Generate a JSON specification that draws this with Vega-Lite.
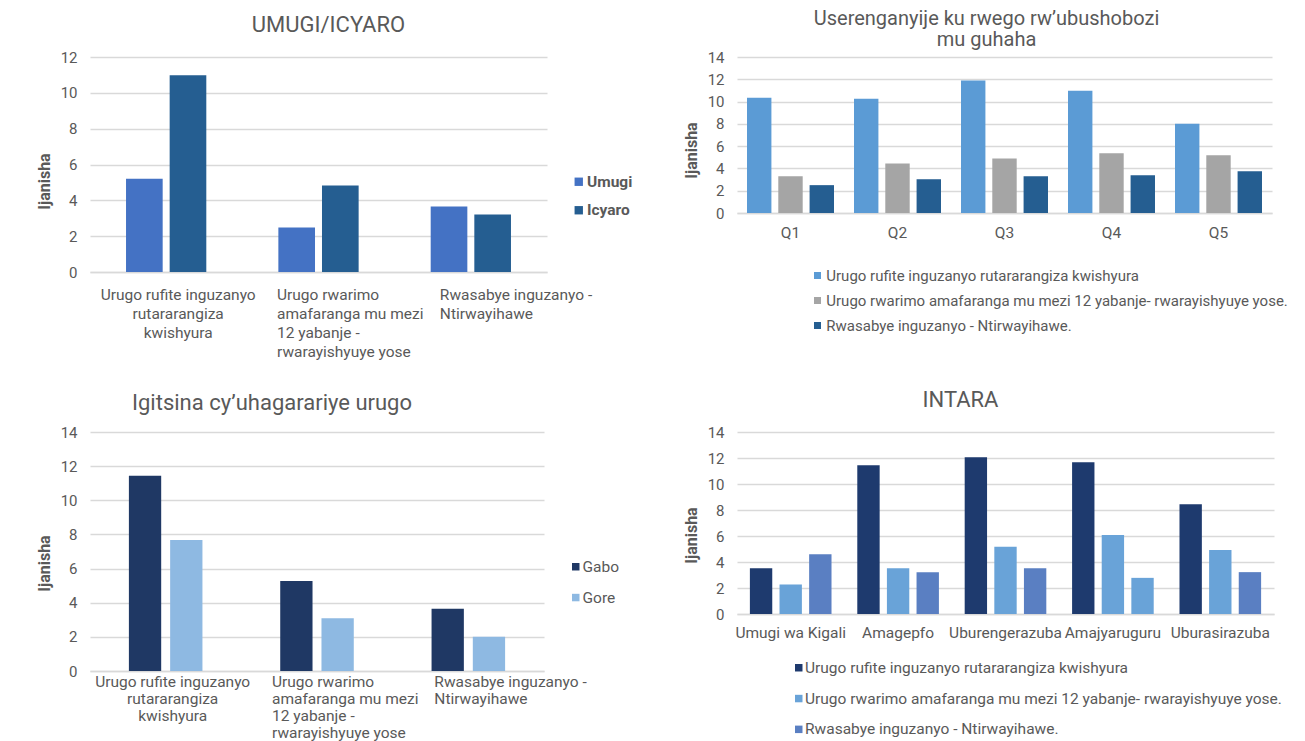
{
  "$schema": "https://vega.github.io/schema/vega-lite/v6.json",
  "background": "white",
  "padding": {"left": 36, "top": 8, "right": 5, "bottom": 5},
  "datasets": {
    "p1": [
      {"cat": "Urugo rufite inguzanyo rutararangiza kwishyura", "series": "Umugi", "value": 5.2},
      {"cat": "Urugo rufite inguzanyo rutararangiza kwishyura", "series": "Icyaro", "value": 10.98},
      {"cat": "Urugo rwarimo amafaranga mu mezi 12 yabanje - rwarayishyuye yose", "series": "Umugi", "value": 2.49},
      {"cat": "Urugo rwarimo amafaranga mu mezi 12 yabanje - rwarayishyuye yose", "series": "Icyaro", "value": 4.83},
      {"cat": "Rwasabye inguzanyo - Ntirwayihawe", "series": "Umugi", "value": 3.66},
      {"cat": "Rwasabye inguzanyo - Ntirwayihawe", "series": "Icyaro", "value": 3.21}
    ],
    "p2": [
      {"q": "Q1", "series": "Urugo rufite inguzanyo rutararangiza kwishyura", "value": 10.34},
      {"q": "Q1", "series": "Urugo rwarimo amafaranga mu mezi 12 yabanje- rwarayishyuye yose.", "value": 3.29},
      {"q": "Q1", "series": "Rwasabye inguzanyo - Ntirwayihawe.", "value": 2.5},
      {"q": "Q2", "series": "Urugo rufite inguzanyo rutararangiza kwishyura", "value": 10.25},
      {"q": "Q2", "series": "Urugo rwarimo amafaranga mu mezi 12 yabanje- rwarayishyuye yose.", "value": 4.45},
      {"q": "Q2", "series": "Rwasabye inguzanyo - Ntirwayihawe.", "value": 3.03},
      {"q": "Q3", "series": "Urugo rufite inguzanyo rutararangiza kwishyura", "value": 11.9},
      {"q": "Q3", "series": "Urugo rwarimo amafaranga mu mezi 12 yabanje- rwarayishyuye yose.", "value": 4.9},
      {"q": "Q3", "series": "Rwasabye inguzanyo - Ntirwayihawe.", "value": 3.29},
      {"q": "Q4", "series": "Urugo rufite inguzanyo rutararangiza kwishyura", "value": 10.98},
      {"q": "Q4", "series": "Urugo rwarimo amafaranga mu mezi 12 yabanje- rwarayishyuye yose.", "value": 5.36},
      {"q": "Q4", "series": "Rwasabye inguzanyo - Ntirwayihawe.", "value": 3.38},
      {"q": "Q5", "series": "Urugo rufite inguzanyo rutararangiza kwishyura", "value": 8.0},
      {"q": "Q5", "series": "Urugo rwarimo amafaranga mu mezi 12 yabanje- rwarayishyuye yose.", "value": 5.18},
      {"q": "Q5", "series": "Rwasabye inguzanyo - Ntirwayihawe.", "value": 3.74}
    ],
    "p3": [
      {"cat": "Urugo rufite inguzanyo rutararangiza kwishyura", "sex": "Gabo", "value": 11.44},
      {"cat": "Urugo rufite inguzanyo rutararangiza kwishyura", "sex": "Gore", "value": 7.67},
      {"cat": "Urugo rwarimo amafaranga mu mezi 12 yabanje - rwarayishyuye yose", "sex": "Gabo", "value": 5.27},
      {"cat": "Urugo rwarimo amafaranga mu mezi 12 yabanje - rwarayishyuye yose", "sex": "Gore", "value": 3.09},
      {"cat": "Rwasabye inguzanyo - Ntirwayihawe", "sex": "Gabo", "value": 3.64},
      {"cat": "Rwasabye inguzanyo - Ntirwayihawe", "sex": "Gore", "value": 2.0}
    ],
    "p4": [
      {"region": "Umugi wa Kigali", "kind": "Urugo rufite inguzanyo rutararangiza kwishyura", "value": 3.51},
      {"region": "Umugi wa Kigali", "kind": "Urugo rwarimo amafaranga mu mezi 12 yabanje- rwarayishyuye yose.", "value": 2.27},
      {"region": "Umugi wa Kigali", "kind": "Rwasabye inguzanyo - Ntirwayihawe.", "value": 4.6},
      {"region": "Amagepfo", "kind": "Urugo rufite inguzanyo rutararangiza kwishyura", "value": 11.44},
      {"region": "Amagepfo", "kind": "Urugo rwarimo amafaranga mu mezi 12 yabanje- rwarayishyuye yose.", "value": 3.51},
      {"region": "Amagepfo", "kind": "Rwasabye inguzanyo - Ntirwayihawe.", "value": 3.22},
      {"region": "Uburengerazuba", "kind": "Urugo rufite inguzanyo rutararangiza kwishyura", "value": 12.05},
      {"region": "Uburengerazuba", "kind": "Urugo rwarimo amafaranga mu mezi 12 yabanje- rwarayishyuye yose.", "value": 5.18},
      {"region": "Uburengerazuba", "kind": "Rwasabye inguzanyo - Ntirwayihawe.", "value": 3.51},
      {"region": "Amajyaruguru", "kind": "Urugo rufite inguzanyo rutararangiza kwishyura", "value": 11.67},
      {"region": "Amajyaruguru", "kind": "Urugo rwarimo amafaranga mu mezi 12 yabanje- rwarayishyuye yose.", "value": 6.08},
      {"region": "Amajyaruguru", "kind": "Rwasabye inguzanyo - Ntirwayihawe.", "value": 2.78},
      {"region": "Uburasirazuba", "kind": "Urugo rufite inguzanyo rutararangiza kwishyura", "value": 8.44},
      {"region": "Uburasirazuba", "kind": "Urugo rwarimo amafaranga mu mezi 12 yabanje- rwarayishyuye yose.", "value": 4.93},
      {"region": "Uburasirazuba", "kind": "Rwasabye inguzanyo - Ntirwayihawe.", "value": 3.22}
    ]
  },
  "columns": 2,
  "spacing": {"row": 160, "column": 190},
  "bounds": "flush",
  "align": {"row": "each", "column": "none"},
  "resolve": {
    "scale": {"color": "independent", "x": "independent", "y": "independent", "xOffset": "independent"},
    "legend": {"color": "independent"},
    "axis": {"x": "independent", "y": "independent"}
  },
  "concat": [
    {
      "data": {"name": "p1"},
      "width": 457,
      "height": 215,
      "title": {"text": "UMUGI/ICYARO", "fontSize": 22, "dx": 10, "offset": 13},
      "mark": {"type": "bar"},
      "encoding": {
        "x": {
          "field": "cat", "type": "nominal", "sort": null,
          "scale": {"paddingInner": 0.473, "paddingOuter": 0.2365},
          "axis": {
            "title": null,
            "labelPadding": 15.5,
            "labelLineHeight": 19,
            "labelExpr": "indexof(datum.value,'rufite')>=0 ? ['Urugo rufite inguzanyo','rutararangiza','kwishyura'] : indexof(datum.value,'rwarimo')>=0 ? ['Urugo rwarimo','amafaranga mu mezi','12 yabanje -','rwarayishyuye yose'] : ['Rwasabye inguzanyo -','Ntirwayihawe']",
            "labelAlign": {"condition": {"test": "indexof(datum.value,'rufite')>=0", "value": "center"}, "value": "left"},
            "labelOffset": {"condition": [{"test": "indexof(datum.value,'rufite')>=0", "value": 12}, {"test": "indexof(datum.value,'rwarimo')>=0", "value": -41.5}], "value": -31}
          }
        },
        "xOffset": {"field": "series", "type": "nominal", "sort": ["Umugi", "Icyaro"], "scale": {"paddingInner": 0.16, "paddingOuter": 0}},
        "y": {
          "field": "value", "type": "quantitative",
          "scale": {"domain": [0, 12], "nice": false},
          "axis": {"title": "Ijanisha", "values": [0, 2, 4, 6, 8, 10, 12], "titleY": 124}
        },
        "color": {
          "field": "series", "type": "nominal",
          "scale": {"domain": ["Umugi", "Icyaro"], "range": ["#4472C4", "#255E91"]},
          "legend": {"title": null, "orient": "none", "legendX": 481, "legendY": 117, "symbolSize": 70, "labelFontWeight": "bold", "rowPadding": 11.5, "labelOffset": 0.5}
        }
      }
    },
    {
      "data": {"name": "p2"},
      "width": 535,
      "height": 156,
      "title": {"text": ["Userenganyije ku rwego rw’ubushobozi", "mu guhaha"], "fontSize": 20, "lineHeight": 21.5, "dx": -18, "offset": 0},
      "mark": {"type": "bar"},
      "encoding": {
        "x": {
          "field": "q", "type": "nominal", "sort": null,
          "scale": {"paddingInner": 0.187, "paddingOuter": 0.0935},
          "axis": {"title": null, "labelPadding": 12.5}
        },
        "xOffset": {"field": "series", "type": "nominal", "sort": ["Urugo rufite inguzanyo rutararangiza kwishyura", "Urugo rwarimo amafaranga mu mezi 12 yabanje- rwarayishyuye yose.", "Rwasabye inguzanyo - Ntirwayihawe."], "scale": {"paddingInner": 0.22, "paddingOuter": 0}},
        "y": {
          "field": "value", "type": "quantitative",
          "scale": {"domain": [0, 14], "nice": false},
          "axis": {"title": "Ijanisha", "values": [0, 2, 4, 6, 8, 10, 12, 14], "titleY": 93}
        },
        "color": {
          "field": "series", "type": "nominal",
          "scale": {"domain": ["Urugo rufite inguzanyo rutararangiza kwishyura", "Urugo rwarimo amafaranga mu mezi 12 yabanje- rwarayishyuye yose.", "Rwasabye inguzanyo - Ntirwayihawe."], "range": ["#5B9BD5", "#A5A5A5", "#255E91"]},
          "legend": {"title": null, "orient": "none", "legendX": 73, "legendY": 211, "symbolSize": 49, "labelFontSize": 15, "rowPadding": 9, "labelOffset": 1.3}
        }
      }
    },
    {
      "data": {"name": "p3"},
      "width": 454,
      "height": 239,
      "title": {"text": "Igitsina cy’uhagarariye urugo", "fontSize": 22, "dx": -45, "offset": 10.5},
      "mark": {"type": "bar"},
      "encoding": {
        "x": {
          "field": "cat", "type": "nominal", "sort": null,
          "scale": {"paddingInner": 0.514, "paddingOuter": 0.257},
          "axis": {
            "title": null,
            "labelPadding": 3.5,
            "labelLineHeight": 17,
            "labelExpr": "indexof(datum.value,'rufite')>=0 ? ['Urugo rufite inguzanyo','rutararangiza','kwishyura'] : indexof(datum.value,'rwarimo')>=0 ? ['Urugo rwarimo','amafaranga mu mezi','12 yabanje -','rwarayishyuye yose'] : ['Rwasabye inguzanyo -','Ntirwayihawe']",
            "labelAlign": {"condition": {"test": "indexof(datum.value,'rufite')>=0", "value": "center"}, "value": "left"},
            "labelOffset": {"condition": [{"test": "indexof(datum.value,'rufite')>=0", "value": 7}, {"test": "indexof(datum.value,'rwarimo')>=0", "value": -45}], "value": -34}
          }
        },
        "xOffset": {"field": "sex", "type": "nominal", "sort": ["Gabo", "Gore"], "scale": {"paddingInner": 0.217, "paddingOuter": 0}},
        "y": {
          "field": "value", "type": "quantitative",
          "scale": {"domain": [0, 14], "nice": false},
          "axis": {"title": "Ijanisha", "values": [0, 2, 4, 6, 8, 10, 12, 14], "titleY": 131}
        },
        "color": {
          "field": "sex", "type": "nominal",
          "scale": {"domain": ["Gabo", "Gore"], "range": ["#1F3864", "#8EB9E2"]},
          "legend": {"title": null, "orient": "none", "legendX": 478, "legendY": 127, "symbolSize": 56, "rowPadding": 13.8, "labelOffset": -1}
        }
      }
    },
    {
      "data": {"name": "p4"},
      "width": 537,
      "height": 182,
      "title": {"text": "INTARA", "fontSize": 22, "dx": -45, "offset": 13},
      "mark": {"type": "bar"},
      "encoding": {
        "x": {
          "field": "region", "type": "nominal", "sort": null,
          "scale": {"paddingInner": 0.24, "paddingOuter": 0.12},
          "axis": {"title": null, "labelPadding": 11}
        },
        "xOffset": {"field": "kind", "type": "nominal", "sort": ["Urugo rufite inguzanyo rutararangiza kwishyura", "Urugo rwarimo amafaranga mu mezi 12 yabanje- rwarayishyuye yose.", "Rwasabye inguzanyo - Ntirwayihawe."], "scale": {"paddingInner": 0.245, "paddingOuter": 0}},
        "y": {
          "field": "value", "type": "quantitative",
          "scale": {"domain": [0, 14], "nice": false},
          "axis": {"title": "Ijanisha", "values": [0, 2, 4, 6, 8, 10, 12, 14], "titleY": 103}
        },
        "color": {
          "condition": {"test": "datum.region === 'Amajyaruguru' && indexof(datum.kind, 'Rwasabye') === 0", "value": "#69A3D8"},
          "field": "kind", "type": "nominal",
          "scale": {"domain": ["Urugo rufite inguzanyo rutararangiza kwishyura", "Urugo rwarimo amafaranga mu mezi 12 yabanje- rwarayishyuye yose.", "Rwasabye inguzanyo - Ntirwayihawe."], "range": ["#1E3A6E", "#69A3D8", "#5A7FC2"]},
          "legend": {"title": null, "orient": "none", "legendX": 54, "legendY": 228, "symbolSize": 56, "rowPadding": 13.8, "labelOffset": -1.5}
        }
      }
    }
  ],
  "config": {
    "font": "Roboto",
    "view": {"stroke": null},
    "title": {"color": "#595959", "fontWeight": "normal", "font": "Roboto", "frame": "group", "anchor": "middle"},
    "bar": {"strokeWidth": 0},
    "axisY": {
      "grid": true, "gridColor": "#D9D9D9", "gridWidth": 1.3,
      "domain": false, "ticks": false,
      "labelPadding": 13, "labelFontSize": 15, "labelColor": "#595959",
      "titlePadding": 8, "titleFontWeight": "bold", "titleFontSize": 16, "titleColor": "#595959"
    },
    "axisX": {
      "grid": false, "domain": true, "domainColor": "#D9D9D9", "domainWidth": 1.3,
      "ticks": false, "labelAngle": 0, "labelFontSize": 15.5, "labelColor": "#595959",
      "labelOverlap": false, "labelLimit": 400
    },
    "legend": {
      "symbolType": "square", "symbolStrokeWidth": 0,
      "labelColor": "#595959", "labelFontSize": 15.5, "labelLimit": 700,
      "padding": 0, "direction": "vertical"
    }
  }
}
